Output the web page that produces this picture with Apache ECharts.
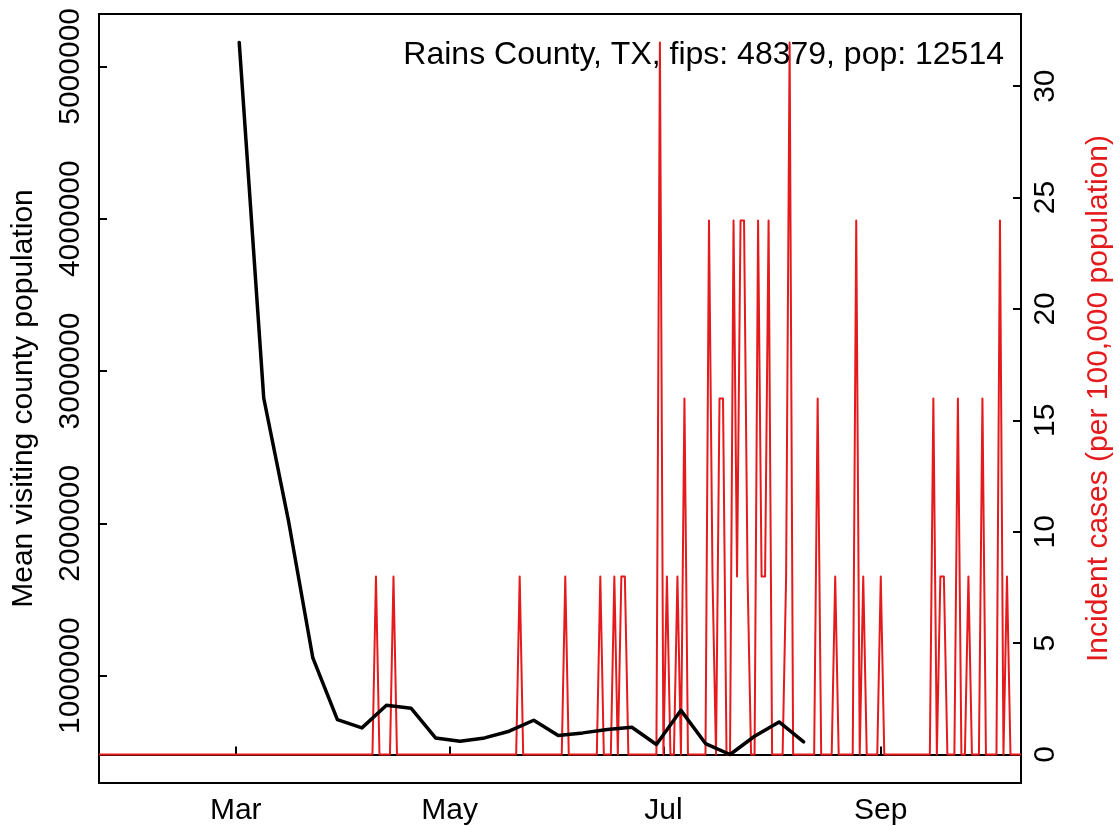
<!DOCTYPE html>
<html>
<head>
<meta charset="utf-8">
<script src="https://cdn.jsdelivr.net/npm/echarts@6/dist/echarts.min.js"></script>
<style>
html,body{margin:0;padding:0;background:#ffffff;}
#chart{width:1119px;height:826px;}
</style>
</head>
<body>
<div id="chart"></div>
<script>
// ---- data ----
const titleText = 'Rains County, TX, fips: 48379, pop: 12514';
const leftAxisName = 'Mean visiting county population';
const rightAxisName = 'Incident cases (per 100,000 population)';

const visitDates = ['2020-03-02','2020-03-09','2020-03-16','2020-03-23','2020-03-30','2020-04-06',
  '2020-04-13','2020-04-20','2020-04-27','2020-05-04','2020-05-11','2020-05-18','2020-05-25',
  '2020-06-01','2020-06-08','2020-06-15','2020-06-22','2020-06-29','2020-07-06','2020-07-13',
  '2020-07-20','2020-07-27','2020-08-03','2020-08-10'];
const visitValues = [5157000,2821000,2023000,1116000,711000,657000,805000,786000,591000,569000,
  591000,635000,707000,607000,624000,646000,661000,548000,772000,554000,482000,602000,696000,565000];

// days with non-zero incidence (all other days in the series are 0)
const caseDates = ['2020-04-10','2020-04-15','2020-05-21','2020-06-03','2020-06-13','2020-06-17',
  '2020-06-19','2020-06-20','2020-06-30','2020-07-02','2020-07-05','2020-07-07','2020-07-14',
  '2020-07-15','2020-07-17','2020-07-18','2020-07-21','2020-07-22','2020-07-23','2020-07-24',
  '2020-07-25','2020-07-28','2020-07-29','2020-07-30','2020-07-31','2020-08-05','2020-08-06',
  '2020-08-14','2020-08-19','2020-08-25','2020-08-27','2020-09-01','2020-09-16','2020-09-18',
  '2020-09-19','2020-09-23','2020-09-26','2020-09-30','2020-10-05','2020-10-07'];
const caseRates = [7.99,7.99,7.99,7.99,7.99,7.99,
  7.99,7.99,31.96,7.99,7.99,15.98,23.97,
  7.99,15.98,15.98,23.97,7.99,23.97,23.97,
  7.99,23.97,7.99,7.99,23.97,7.99,31.96,
  15.98,7.99,23.97,7.99,7.99,15.98,7.99,
  7.99,15.98,7.99,15.98,23.97,7.99];
const caseSeriesStart = '2020-01-22';
const caseSeriesEnd = '2020-10-11';

const xTickDates = ['2020-03-01','2020-05-01','2020-07-01','2020-09-01'];
const xTickLabels = ['Mar','May','Jul','Sep'];
const leftTicks = [1000000,2000000,3000000,4000000,5000000];
const rightTicks = [0,5,10,15,20,25,30];

// ---- build ----
const DAY = 86400000;
const ts = s => Date.parse(s + 'T00:00:00Z');
const xMin = ts(caseSeriesStart), xMax = ts(caseSeriesEnd);

const rateByDay = {};
caseDates.forEach((d, i) => { rateByDay[ts(d)] = caseRates[i]; });
const caseSeries = [];
for (let t = xMin; t <= xMax; t += DAY) caseSeries.push([t, rateByDay[t] || 0]);

const visitSeries = visitDates.map((d, i) => [ts(d), visitValues[i]]);

// R default 4% padding on y ranges
const vMin = Math.min(...visitValues), vMax = Math.max(...visitValues);
const vPad = (vMax - vMin) * 0.04;
const rMax = Math.max(...caseRates);
const rPad = rMax * 0.04;

const FONT = "'Liberation Sans', Arial, Helvetica, sans-serif";
const RED = '#E41A1C';
const xTickTs = xTickDates.map(ts);

const chart = echarts.init(document.getElementById('chart'), null, {renderer: 'canvas'});
chart.setOption({
  animation: false,
  backgroundColor: '#ffffff',
  textStyle: {fontFamily: FONT},
  title: {
    text: titleText, right: 115, top: 39, padding: 0,
    textStyle: {fontSize: 32, fontWeight: 'normal', color: '#000', fontFamily: FONT}
  },
  grid: {
    left: 99, right: 98, top: 14, bottom: 43,
    show: true, borderColor: '#000', borderWidth: 2, backgroundColor: 'transparent',
    containLabel: false, outerBoundsMode: 'none'
  },
  xAxis: {
    type: 'value', min: xMin, max: xMax,
    splitLine: {show: false},
    axisLine: {show: true, lineStyle: {color: '#000', width: 2}},
    axisTick: {show: true, inside: true, length: 8, customValues: xTickTs, lineStyle: {color: '#000', width: 2}},
    axisLabel: {
      customValues: xTickTs, fontSize: 30, color: '#000', margin: 13, fontFamily: FONT,
      formatter: v => {
        let best = 0;
        xTickTs.forEach((t, i) => { if (Math.abs(t - v) < Math.abs(xTickTs[best] - v)) best = i; });
        return xTickLabels[best];
      }
    }
  },
  yAxis: [{
    type: 'value', position: 'left', min: vMin - vPad, max: vMax + vPad,
    splitLine: {show: false},
    axisLine: {show: true, lineStyle: {color: '#000', width: 2}},
    axisTick: {show: true, inside: true, length: 8, customValues: leftTicks, lineStyle: {color: '#000', width: 2}},
    axisLabel: {customValues: leftTicks, rotate: 90, fontSize: 30, color: '#000', margin: 13, fontFamily: FONT,
      formatter: v => String(Math.round(v))},
    name: leftAxisName, nameLocation: 'middle', nameGap: 60,
    nameTextStyle: {fontSize: 30, color: '#000', fontFamily: FONT}
  }, {
    type: 'value', position: 'right', min: -rPad, max: rMax + rPad,
    splitLine: {show: false},
    axisLine: {show: true, lineStyle: {color: '#000', width: 2}},
    axisTick: {show: true, inside: true, length: 8, customValues: rightTicks, lineStyle: {color: '#000', width: 2}},
    axisLabel: {customValues: rightTicks, rotate: 90, fontSize: 30, color: '#000', margin: 10, fontFamily: FONT,
      formatter: v => String(Math.round(v))},
    name: rightAxisName, nameLocation: 'middle', nameGap: 63,
    nameTextStyle: {fontSize: 30, color: RED, fontFamily: FONT}
  }],
  series: [{
    type: 'line', name: 'cases', yAxisIndex: 1, data: caseSeries,
    showSymbol: false, symbol: 'none', clip: true,
    lineStyle: {color: RED, width: 2, join: 'round'}
  }, {
    type: 'line', name: 'visits', yAxisIndex: 0, data: visitSeries,
    showSymbol: false, symbol: 'none', clip: true,
    lineStyle: {color: '#000', width: 3.5, cap: 'round', join: 'round'}
  }]
});
</script>
</body>
</html>
